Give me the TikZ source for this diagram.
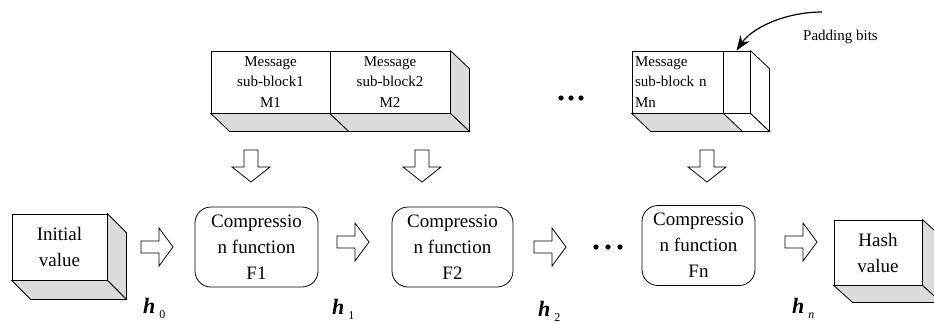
\documentclass[tikz,border=0pt]{standalone}
\usepackage{fontspec}
\setmainfont{Liberation Serif}
\usetikzlibrary{arrows.meta,calc}

% extruded faces (right and bottom) of a box whose front is node #1
\newcommand\boxfaces[4]{% node, dx, dy, style
  \draw[#4] (#1.north east) -- ++(#2,#3) -- ([shift={(#2,#3)}]#1.south east) -- (#1.south east) -- cycle;
  \draw[#4] (#1.south west) -- ++(#2,#3) -- ([shift={(#2,#3)}]#1.south east) -- (#1.south east) -- cycle;}

\tikzset{
  line/.style={line width=0.8pt},
  frontface/.style={line, draw, fill=white, inner sep=0pt, align=center,
    font=\fontsize{19}{26}\selectfont},
  msgface/.style={line, draw, fill=white, inner sep=0pt, align=center,
    minimum height=62pt, font=\fontsize{15}{20.5}\selectfont},
  shaded/.style={line, draw, fill=gray!28},
  blank/.style={line, draw, fill=white},
  func/.style={line, draw, rounded corners=16pt, align=center, inner sep=0pt,
    minimum height=80pt, font=\fontsize{19}{26}\selectfont},
  hlab/.style={anchor=base west, inner sep=0pt, font=\fontsize{22}{22}\selectfont\bfseries\itshape},
  pics/rarrow/.style={code={
    \draw[line, line join=miter] (-16,-6) -- (2,-6) -- (2,-19) -- (16,0) -- (2,19) -- (2,6) -- (-16,6) -- cycle;}},
  pics/darrow/.style={code={
    \draw[line, line join=miter] (-7,-16) -- (7,-16) -- (7,1) -- (19,1) -- (0,16) -- (-19,1) -- (-7,1) -- cycle;}},
}
\newcommand\sub[1]{\hspace{4pt}{\normalfont\fontsize{12}{12}\selectfont\raisebox{-5pt}{#1}}}

\begin{document}
\begin{tikzpicture}[x=1pt, y=-1pt]
\useasboundingbox (0,0) rectangle (934,322);

% message sub-blocks
\node[msgface, minimum width=119pt] (m1) at (270.5,82) {Message\\sub-block1\\M1};
\node[msgface, minimum width=120pt] (m2) at (390,82) {Message\\sub-block2\\M2};
\boxfaces{m2}{19}{18}{shaded}
\draw[shaded] (m1.south west) -- ++(19,18) -- ([shift={(19,18)}]m2.south west) -- (m2.south west) -- cycle;

\node[msgface, align=left, text width=85pt, inner xsep=3pt, minimum width=91pt] (mn) at (677.5,82) {Message\\sub-block n\\Mn};
\node[msgface, minimum width=27pt] (pad) at (736.5,82) {};
\boxfaces{pad}{19}{18}{blank}
\draw[shaded] (mn.south west) -- ++(19,18) -- ([shift={(19,18)}]mn.south east) -- (mn.south east) -- cycle;

% padding label
\node[anchor=base west, inner sep=0pt, font=\fontsize{15}{18}\selectfont] (padtxt) at (803,40) {Padding bits};
\coordinate (pstart) at (822,12);
\draw[line width=1.2pt, -{Stealth[length=15pt,width=11pt]}] (pstart) .. controls (785,12) and (752,28) .. (pad.north);

% ellipses
\foreach \x in {561,571,581} \fill (\x,98) circle (2.6);
\foreach \x in {596,608,620} \fill (\x,247) circle (2.6);

% downward arrows
\pic at (251,166) {darrow};
\pic at (422,166) {darrow};
\pic at (707,166) {darrow};

% initial value
\node[frontface, minimum width=95pt, minimum height=66pt] (init) at (59.5,247) {Initial\\value};
\boxfaces{init}{19}{19}{shaded}

% compression functions
\node[func, minimum width=123pt] (f1) at (256.5,247) {Compressio\\n function\\F1};
\node[func, minimum width=121pt] (f2) at (452.5,247) {Compressio\\n function\\F2};
\node[func, minimum width=113pt] (fn) at (698.5,245.5) {Compressio\\n function\\Fn};

% hash value
\node[frontface, minimum width=88pt, minimum height=65pt] (hash) at (878,252.5) {Hash\\value};
\boxfaces{hash}{19}{17}{shaded}

% chaining arrows
\pic at (157,247) {rarrow};
\pic at (353,242) {rarrow};
\pic at (550,247) {rarrow};
\pic at (801,242) {rarrow};

% chaining values
\node[hlab] (h0) at (143,313) {h\sub{0}};
\node[hlab] (h1) at (332,314) {h\sub{1}};
\node[hlab] (h2) at (538,316) {h\sub{2}};
\node[hlab] (hn) at (792,313) {h\sub{\itshape n}};
\end{tikzpicture}
\end{document}
